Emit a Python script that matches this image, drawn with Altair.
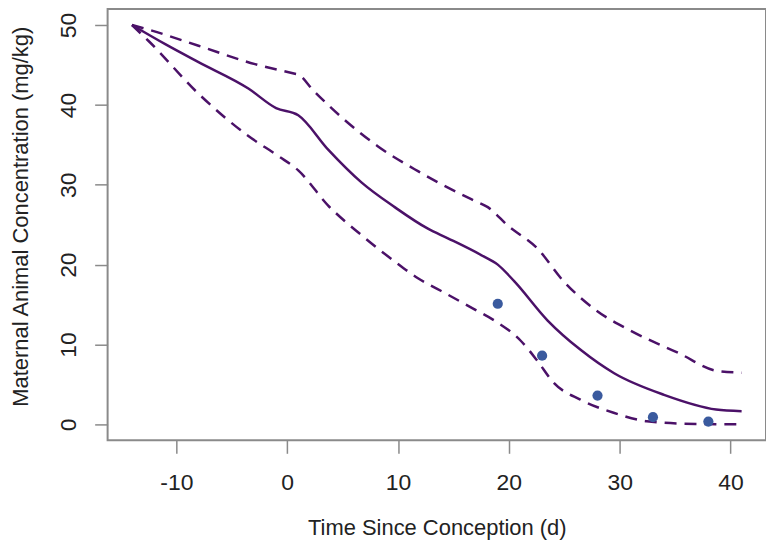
import altair as alt
import pandas as pd

# Model median (solid) and bounds (dashed)
mean_t = [-14, -11, -8, -3.5, -1.0, 1.0, 3.7, 6.7, 9.7, 12.7, 14.5, 17.5, 19, 20.5, 23.5, 26.5, 29.5, 34, 38.7, 41]
mean_v = [50, 47.6, 45.35, 42.05, 39.6, 38.7, 34.4, 30.3, 27.2, 24.5, 23.3, 21.2, 20.0, 17.9, 13.0, 9.3, 6.4, 3.7, 1.86, 1.65]

upper_t = [-14, -12.2, -8, -2.9, 0.7, 1.0, 2.3, 5.2, 8.2, 11.8, 13.6, 16.9, 18.1, 19.9, 22.55, 24.95, 27.95, 30.95, 35.4, 38.7, 41]
upper_v = [50, 49.3, 47.4, 45.1, 43.9, 43.8, 41.9, 38.1, 34.8, 31.7, 30.3, 28.0, 27.2, 24.9, 22.05, 17.9, 14.2, 11.75, 8.87, 6.72, 6.47]

lower_t = [-14, -12.5, -8, -3.5, -0.8, 1.0, 3.7, 6.7, 9.7, 11.8, 13.9, 16.9, 18.7, 21.05, 22.55, 24.05, 26.45, 29.45, 32.45, 36.9, 41]
lower_v = [50, 48.0, 41.4, 36.1, 33.6, 31.8, 27.4, 23.7, 20.4, 18.3, 16.7, 14.4, 13.0, 10.5, 8.0, 5.2, 3.1, 1.45, 0.4, 0.05, 0.0]

# Observed data points
obs_t = [19, 23, 28, 33, 38]
obs_v = [15.1, 8.6, 3.6, 0.9, 0.35]

x_ticks = [-10, 0, 10, 20, 30, 40]
y_ticks = [0, 10, 20, 30, 40, 50]

LINE_COLOR = "#4b1168"
POINT_COLOR = "#3a5a9e"

mean_df = pd.DataFrame({"t": mean_t, "v": mean_v})
upper_df = pd.DataFrame({"t": upper_t, "v": upper_v})
lower_df = pd.DataFrame({"t": lower_t, "v": lower_v})
obs_df = pd.DataFrame({"t": obs_t, "v": obs_v})

x_enc = alt.X(
    "t:Q",
    scale=alt.Scale(domain=[-16.2, 43.2], nice=False, zero=False),
    axis=alt.Axis(
        values=x_ticks,
        labelExpr="'' + datum.value",
        title="Time Since Conception (d)",
        labelPadding=18,
        titleBaseline="middle",
        titleAlign="center",
        titleX=330.5,
        titleY=88,
    ),
)
y_enc = alt.Y(
    "v:Q",
    scale=alt.Scale(domain=[-2, 52], nice=False, zero=False),
    axis=alt.Axis(
        values=y_ticks,
        labelExpr="'' + datum.value",
        title="Maternal Animal Concentration (mg/kg)",
        titleLimit=1000,
        labelAngle=270,
        labelAlign="center",
        labelBaseline="bottom",
        labelPadding=14,
        titleAngle=270,
        titleAlign="center",
        titleBaseline="middle",
        titleX=-87,
        titleY=208,
    ),
)

mean_line = alt.Chart(mean_df).mark_line(
    color=LINE_COLOR, strokeWidth=2.5, interpolate="monotone"
).encode(x=x_enc, y=y_enc)

upper_line = alt.Chart(upper_df).mark_line(
    color=LINE_COLOR, strokeWidth=2.5, strokeDash=[12, 8], interpolate="monotone"
).encode(x=x_enc, y=y_enc)

lower_line = alt.Chart(lower_df).mark_line(
    color=LINE_COLOR, strokeWidth=2.5, strokeDash=[12, 8], interpolate="monotone"
).encode(x=x_enc, y=y_enc)

points = alt.Chart(obs_df).mark_circle(
    color=POINT_COLOR, size=105, opacity=1
).encode(x=x_enc, y=y_enc)

chart = (
    alt.layer(upper_line, lower_line, mean_line, points)
    .properties(
        width=661,
        height=433,
        autosize=alt.AutoSizeParams(type="none"),
        padding={"left": 100, "top": 0, "right": 0, "bottom": 100},
    )
    .configure_view(stroke="#8a8a8a", strokeWidth=2)
    .configure_axis(
        grid=False,
        domain=False,
        tickColor="#8a8a8a",
        tickWidth=1.5,
        tickSize=13,
        labelFont="Liberation Sans",
        labelFontSize=23,
        labelColor="#222222",
        titleFont="Liberation Sans",
        titleFontSize=22,
        titleFontWeight="normal",
        titleColor="#222222",
    )
)

chart.save("out.html", embed_options={"renderer": "svg", "actions": False})
